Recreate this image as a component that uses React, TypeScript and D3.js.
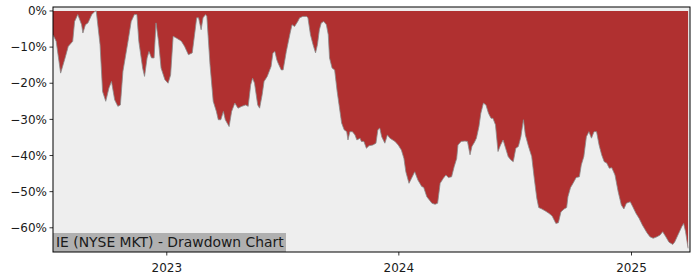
import React from "react";
import * as d3 from "d3";

const dates: string[] = [
  "2022-07-06","2022-07-11","2022-07-18","2022-07-25","2022-07-30","2022-08-06","2022-08-09","2022-08-14","2022-08-20","2022-08-22",
  "2022-08-26","2022-08-30","2022-09-05","2022-09-10","2022-09-12","2022-09-18","2022-09-22","2022-09-27","2022-10-02","2022-10-06",
  "2022-10-11","2022-10-16","2022-10-20","2022-10-24","2022-11-01","2022-11-06","2022-11-11","2022-11-15","2022-11-18","2022-11-24",
  "2022-11-27","2022-12-01","2022-12-04","2022-12-08","2022-12-12","2022-12-15","2022-12-19","2022-12-23","2022-12-29","2023-01-03",
  "2023-01-07","2023-01-11","2023-01-16","2023-01-21","2023-01-24","2023-01-29","2023-02-04","2023-02-10","2023-02-14","2023-02-17",
  "2023-02-20","2023-02-24","2023-02-27","2023-03-03","2023-03-05","2023-03-10","2023-03-15","2023-03-20","2023-03-23","2023-03-27",
  "2023-03-31","2023-04-03","2023-04-09","2023-04-13","2023-04-18","2023-04-23","2023-04-29","2023-05-05","2023-05-09","2023-05-13",
  "2023-05-16","2023-05-19","2023-05-24","2023-05-27","2023-05-31","2023-06-03","2023-06-08","2023-06-14","2023-06-17","2023-06-20",
  "2023-06-23","2023-06-25","2023-06-30","2023-07-03","2023-07-08","2023-07-14","2023-07-17","2023-07-21","2023-07-26","2023-07-29",
  "2023-08-03","2023-08-09","2023-08-11","2023-08-15","2023-08-19","2023-08-23","2023-08-26","2023-08-29","2023-09-01","2023-09-05",
  "2023-09-09","2023-09-12","2023-09-14","2023-09-18","2023-09-22","2023-09-26","2023-09-29","2023-10-03","2023-10-07","2023-10-11",
  "2023-10-13","2023-10-16","2023-10-20","2023-10-24","2023-10-27","2023-11-01","2023-11-03","2023-11-07","2023-11-11","2023-11-15",
  "2023-11-21","2023-11-26","2023-11-29","2023-12-02","2023-12-05","2023-12-10","2023-12-14","2023-12-18","2023-12-26","2023-12-31",
  "2024-01-05","2024-01-09","2024-01-12","2024-01-17","2024-01-21","2024-01-26","2024-01-31","2024-02-06","2024-02-09","2024-02-14",
  "2024-02-18","2024-02-22","2024-02-27","2024-03-02","2024-03-06","2024-03-11","2024-03-15","2024-03-19","2024-03-24","2024-03-28",
  "2024-04-01","2024-04-03","2024-04-08","2024-04-14","2024-04-18","2024-04-22","2024-04-25","2024-04-29","2024-05-02","2024-05-06",
  "2024-05-09","2024-05-13","2024-05-17","2024-05-21","2024-05-25","2024-05-28","2024-06-01","2024-06-05","2024-06-09","2024-06-13",
  "2024-06-17","2024-06-21","2024-06-25","2024-06-29","2024-07-03","2024-07-07","2024-07-11","2024-07-15","2024-07-18","2024-07-23",
  "2024-07-28","2024-08-01","2024-08-05","2024-08-08","2024-08-13","2024-08-19","2024-08-24","2024-08-29","2024-09-04","2024-09-08",
  "2024-09-12","2024-09-17","2024-09-21","2024-09-23","2024-09-27","2024-10-01","2024-10-06","2024-10-11","2024-10-14","2024-10-18",
  "2024-10-22","2024-10-26","2024-10-30","2024-11-03","2024-11-07","2024-11-11","2024-11-15","2024-11-19","2024-11-23","2024-11-27",
  "2024-12-01","2024-12-06","2024-12-11","2024-12-16","2024-12-20","2024-12-24","2024-12-30","2025-01-03","2025-01-08","2025-01-13",
  "2025-01-18","2025-01-25","2025-01-30","2025-02-04","2025-02-10","2025-02-15","2025-02-19","2025-02-24","2025-03-01","2025-03-07",
  "2025-03-10","2025-03-15","2025-03-21","2025-03-24","2025-03-27","2025-03-31",
];

const drawdown: number[] = [
  -6.6,-8.4,-17.2,-13,-9.8,-8.4,-2.9,-1,-3.8,-6.1,
  -3.8,-3.3,-1,-0.1,0,-9.3,-22.3,-25,-21.3,-19.5,
  -24.6,-26.4,-26,-16.7,-8.4,-2.9,-1,-1,-8.4,-15.8,
  -18.1,-13,-11.2,-13,-13,-3.3,-8.4,-15.8,-19,-20,
  -17.7,-7,-7.5,-8,-8.4,-9.8,-12.1,-11.6,-6.1,-1.9,
  -1.9,-5.2,-1.9,-1,-1.5,-14.9,-25,-27.8,-30.1,-30.1,
  -27.8,-30.1,-32,-27.8,-25.5,-26.9,-26.4,-26,-26.4,-20.4,
  -18.6,-20,-26,-26.9,-23.2,-19.5,-18.1,-15.4,-11.6,-11.2,
  -13.5,-14.4,-16.3,-16.3,-11.2,-6.1,-3.8,-4.3,-2.9,-1.9,
  -1.5,-1.5,-1.9,-6.6,-9.3,-11.6,-9.3,-5.2,-3.3,-2.9,
  -3.8,-6.6,-13,-15.8,-16.3,-22.3,-26,-31,-32.9,-33.4,
  -35.7,-33.4,-33.4,-34.3,-35.7,-35.2,-36.1,-36.1,-38,-37.3,
  -37.1,-36.6,-32.9,-32.4,-34.8,-36.6,-34.3,-35.2,-36.1,-37.1,
  -38.5,-40.8,-44.5,-47.7,-46.3,-44.5,-46.8,-48.6,-48.8,-51.4,
  -52.3,-53.2,-53.5,-53.2,-47.7,-46.3,-45.4,-46.1,-45.9,-43.1,
  -40.8,-37.1,-36.1,-36,-36.1,-39.8,-37.5,-36.3,-35.2,-32,
  -28.3,-25.5,-26,-28.3,-29.7,-29.7,-31.5,-38.9,-37.1,-35.7,
  -38,-40.3,-41.2,-41.7,-38,-37.5,-34.8,-30.1,-34.3,-37.5,
  -40.3,-46.3,-51.8,-54.4,-54.8,-55.4,-56,-56.7,-58.8,-58.6,
  -55.6,-54.8,-54.4,-51.4,-48.9,-47.7,-46.1,-45.9,-42.6,-40.3,
  -34.8,-33.4,-35.2,-33.4,-33.4,-37.1,-39.8,-41.7,-42.1,-43.5,
  -43.4,-45.4,-50,-53.7,-54.8,-53.2,-52.8,-54.2,-56,-57.4,
  -59.2,-61.3,-62.5,-62.9,-62.5,-62,-61.1,-62.5,-64,-64.6,
  -63.9,-62,-59.7,-58.8,-61.1,-65.7,
];

const yTicks: number[] = [0, -10, -20, -30, -40, -50, -60];
const xTickYears: number[] = [2023, 2024, 2025];
const title = "IE (NYSE MKT) - Drawdown Chart";

const W = 700, H = 280;
const M = { left: 53, right: 690, top: 7, bottom: 252 };

export default function App() {
  const parse = d3.timeParse("%Y-%m-%d");
  const data = dates.map((d, i) => ({ date: parse(d) as Date, v: drawdown[i] }));
  const x = d3.scaleTime()
    .domain([parse("2022-07-06") as Date, parse("2025-04-03") as Date])
    .range([M.left, M.right]);
  const y = d3.scaleLinear().domain([1.1, -66.7]).range([M.top, M.bottom]);

  const area = d3.area<{ date: Date; v: number }>()
    .x(d => x(d.date)).y0(y(0)).y1(d => y(d.v));
  const line = d3.line<{ date: Date; v: number }>()
    .x(d => x(d.date)).y(d => y(d.v));

  const font = "'DejaVu Sans', sans-serif";
  return (
    <div style={{ position: "absolute", left: 0, top: 0 }}>
      <svg width={W} height={H} style={{ display: "block", background: "#fff" }}>
        <rect x={M.left} y={M.top} width={M.right - M.left} height={M.bottom - M.top} fill="#eeeeee" />
        <defs>
          <clipPath id="clip">
            <rect x={M.left} y={M.top} width={M.right - M.left} height={M.bottom - M.top} />
          </clipPath>
        </defs>
        <g clipPath="url(#clip)">
          <path d={area(data) || ""} fill="#b03030" />
          <path d={line(data) || ""} fill="none" stroke="#8a8a8a" strokeWidth={0.8} />
        </g>
        <rect x={M.left} y={233} width={233} height={M.bottom - 233} fill="#b0b0b0" />
        <text x={56} y={246.5} fontFamily={font} fontSize={13.9} fill="#1a1a1a">{title}</text>
        <rect x={M.left} y={M.top} width={M.right - M.left} height={M.bottom - M.top} fill="none" stroke="#000" strokeWidth={1} />
        {yTicks.map(t => (
          <g key={t}>
            <line x1={M.left - 3.5} x2={M.left} y1={y(t)} y2={y(t)} stroke="#000" strokeWidth={0.8} />
            <text x={M.left - 6} y={y(t)} dy="0.35em" textAnchor="end" fontFamily={font} fontSize={12} fill="#1a1a1a">
              {(t < 0 ? "\u2212" + Math.abs(t) : String(t)) + "%"}
            </text>
          </g>
        ))}
        {xTickYears.map(yr => {
          const xx = x(new Date(yr, 0, 1));
          return (
            <g key={yr}>
              <line x1={xx} x2={xx} y1={M.bottom} y2={M.bottom + 3.5} stroke="#000" strokeWidth={0.8} />
              <text x={xx} y={M.bottom + 20} textAnchor="middle" fontFamily={font} fontSize={12} fill="#1a1a1a">{yr}</text>
            </g>
          );
        })}
      </svg>
    </div>
  );
}
